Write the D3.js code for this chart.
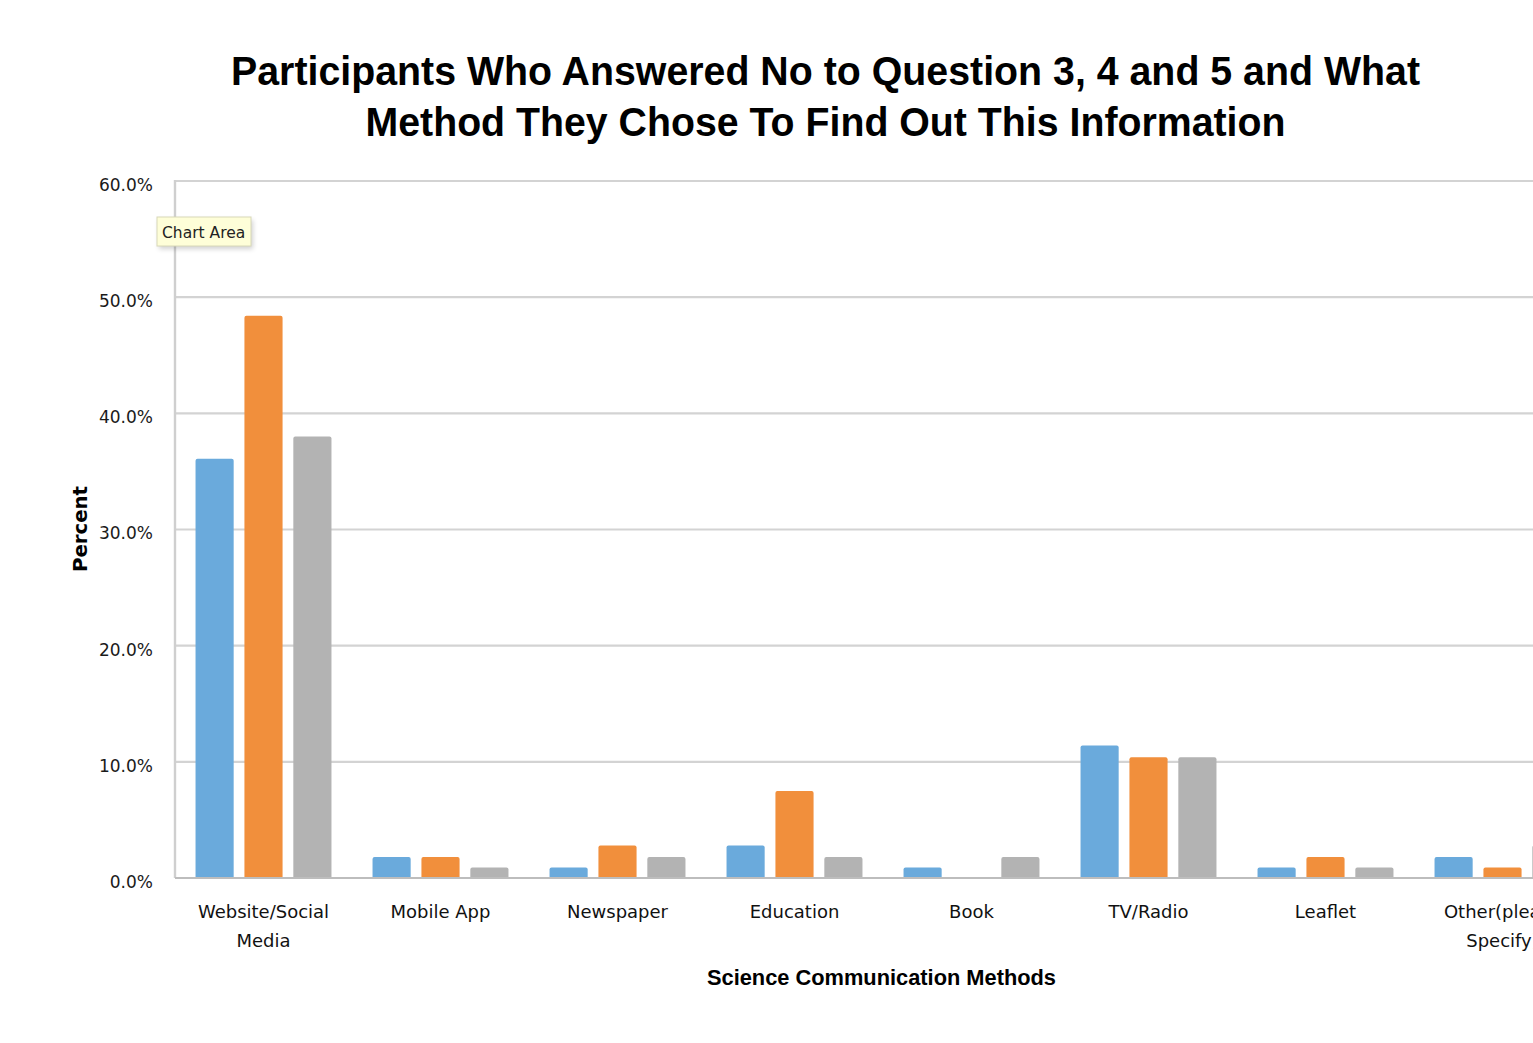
<!DOCTYPE html>
<html>
<head>
<meta charset="utf-8">
<script src="https://cdn.jsdelivr.net/npm/d3@7"></script>
<style>
  html, body { margin: 0; padding: 0; background: #fff; overflow: hidden; }
  svg { display: block; }
</style>
</head>
<body>
<svg id="chart" width="1533" height="1043"></svg>
<script>
// Science communication methods (x categories)
const categories = [
  ["Website/Social", "Media"],
  ["Mobile App"],
  ["Newspaper"],
  ["Education"],
  ["Book"],
  ["TV/Radio"],
  ["Leaflet"],
  ["Other(please", "Specify)"]
];
// Percent of participants answering "No" to each question
const seriesNames = ["Question 3", "Question 4", "Question 5"];
const q3Values = [36.1, 1.8, 0.9, 2.8, 0.9, 11.4, 0.9, 1.8];
const q4Values = [48.4, 1.8, 2.8, 7.5, 0.0, 10.4, 1.8, 0.9];
const q5Values = [38.0, 0.9, 1.8, 1.8, 1.8, 10.4, 0.9, 2.8];
const yTicks = [0, 10, 20, 30, 40, 50, 60];

const colors = ["#6aaadc", "#f18f3c", "#b3b3b3"];
const series = [q3Values, q4Values, q5Values];

const svg = d3.select("#chart");
const plotLeft = 175, plotRight = 1591, plotTop = 181, plotBottom = 878;
const catKeys = categories.map(c => c.join(" "));

const x0 = d3.scaleBand().domain(catKeys).range([plotLeft, plotRight])
  .paddingInner(0.232).paddingOuter(0.116);
const x1 = d3.scaleBand().domain(seriesNames).range([0, x0.bandwidth()])
  .paddingInner(0.22).paddingOuter(0);
const y = d3.scaleLinear().domain([0, 60]).range([plotBottom, plotTop]);

const defs = svg.append("defs");
defs.append("filter").attr("id", "tipShadow").attr("x", "-20%").attr("y", "-30%")
  .attr("width", "140%").attr("height", "180%")
  .append("feGaussianBlur").attr("stdDeviation", 2.5);

// Gridlines
svg.append("g").selectAll("line").data(yTicks.filter(t => t > 0)).join("line")
  .attr("x1", plotLeft).attr("x2", plotRight)
  .attr("y1", d => y(d)).attr("y2", d => y(d))
  .attr("stroke", "#d3d3d3").attr("stroke-width", 2.2);

// Left axis line
svg.append("line").attr("x1", plotLeft).attr("x2", plotLeft)
  .attr("y1", plotTop - 1).attr("y2", plotBottom)
  .attr("stroke", "#cfcfcf").attr("stroke-width", 2.4);

// Y tick labels
const yAxis = d3.axisLeft(y).tickValues(yTicks).tickSize(0).tickPadding(22)
  .tickFormat(d => d.toFixed(1) + "%");
const yg = svg.append("g").attr("transform", `translate(${plotLeft},0)`).call(yAxis);
yg.select(".domain").remove();
yg.selectAll("text").attr("font-family", "DejaVu Sans, sans-serif")
  .attr("font-size", 17).attr("fill", "#1a1a1a").attr("dy", "0.55em");

// Bars with slightly rounded top corners
const bars = svg.append("g");
catKeys.forEach((cat, i) => {
  series.forEach((vals, s) => {
    const v = vals[i];
    if (v <= 0) return;
    const bx = x0(cat) + x1(seriesNames[s]);
    const bw = x1.bandwidth();
    const by = y(v);
    const r = Math.min(2, (plotBottom - by) / 2);
    bars.append("path")
      .attr("d", `M${bx},${plotBottom} L${bx},${by + r} Q${bx},${by} ${bx + r},${by} ` +
                 `L${bx + bw - r},${by} Q${bx + bw},${by} ${bx + bw},${by + r} L${bx + bw},${plotBottom} Z`)
      .attr("fill", colors[s]);
  });
});

// Baseline
svg.append("line").attr("x1", plotLeft).attr("x2", plotRight)
  .attr("y1", plotBottom).attr("y2", plotBottom)
  .attr("stroke", "#bdbdbd").attr("stroke-width", 2.2);

// Category labels
const catG = svg.append("g");
categories.forEach((lines, i) => {
  const cx = x0(catKeys[i]) + x0.bandwidth() / 2;
  const t = catG.append("text").attr("text-anchor", "middle")
    .attr("font-family", "DejaVu Sans, sans-serif").attr("font-size", 18)
    .attr("fill", "#111");
  lines.forEach((ln, j) => {
    t.append("tspan").attr("x", cx).attr("y", 918 + j * 29).text(ln);
  });
});

// Title
const titleLines = [
  { text: "Participants Who Answered No to Question 3, 4 and 5 and What", y: 85, w: 1189 },
  { text: "Method They Chose To Find Out This Information", y: 136, w: 920 }
];
titleLines.forEach(l => {
  svg.append("text").attr("x", 825.5).attr("y", l.y).attr("text-anchor", "middle")
    .attr("font-family", "Liberation Sans, Arial, sans-serif").attr("font-weight", "bold")
    .attr("font-size", 40).attr("fill", "#000")
    .attr("textLength", l.w).attr("lengthAdjust", "spacingAndGlyphs")
    .text(l.text);
});

// Axis titles
svg.append("text").attr("x", 881.5).attr("y", 985).attr("text-anchor", "middle")
  .attr("font-family", "Liberation Sans, Arial, sans-serif").attr("font-weight", "bold")
  .attr("font-size", 22).attr("fill", "#000")
  .attr("textLength", 349).attr("lengthAdjust", "spacingAndGlyphs")
  .text("Science Communication Methods");

svg.append("text").attr("transform", "translate(87,529) rotate(-90)")
  .attr("text-anchor", "middle")
  .attr("font-family", "DejaVu Sans, sans-serif").attr("font-weight", "bold")
  .attr("font-size", 19).attr("fill", "#000")
  .attr("textLength", 86).attr("lengthAdjust", "spacingAndGlyphs")
  .text("Percent");

// Hover tooltip for the chart area
const tip = svg.append("g").attr("transform", "translate(157,217)");
tip.append("rect").attr("x", 2).attr("y", 3).attr("width", 94).attr("height", 29)
  .attr("fill", "#000").attr("opacity", 0.18).attr("filter", "url(#tipShadow)");
tip.append("rect").attr("width", 94).attr("height", 29)
  .attr("fill", "#fefed8").attr("stroke", "#d8d8b8").attr("stroke-width", 1);
tip.append("text").attr("x", 5).attr("y", 21)
  .attr("font-family", "DejaVu Sans, sans-serif").attr("font-size", 15.5)
  .attr("fill", "#222").text("Chart Area");
</script>
</body>
</html>
